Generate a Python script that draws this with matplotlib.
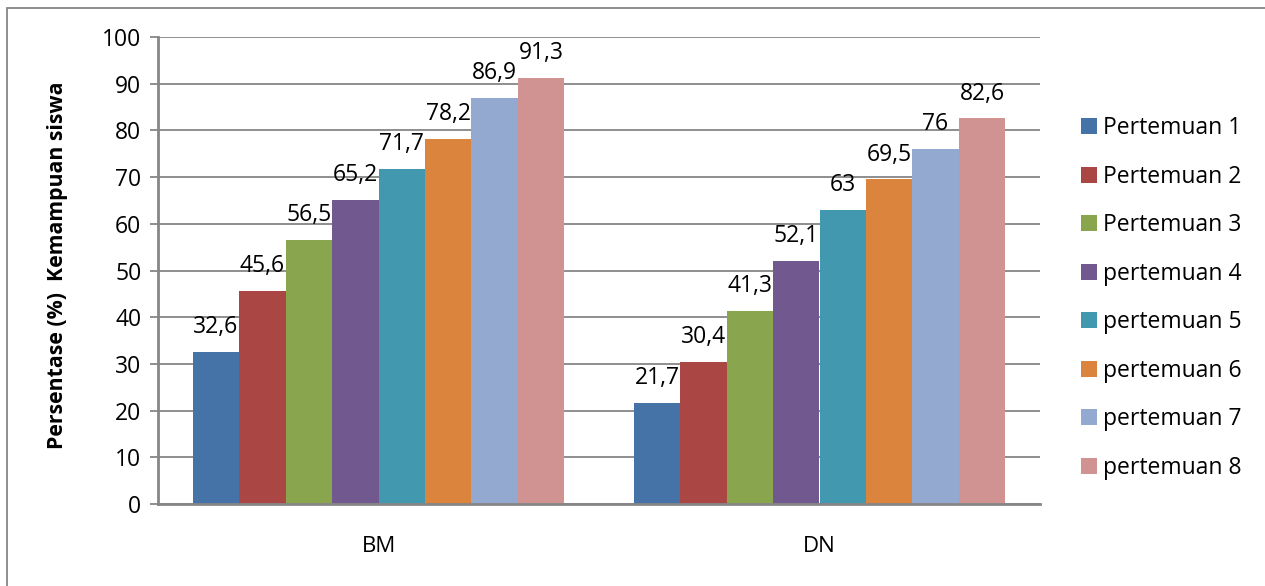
import numpy as np
import matplotlib
matplotlib.use('Agg')
import matplotlib.pyplot as plt

plt.rcParams['font.family'] = ['Open Sans', 'DejaVu Sans']

# data
categories = ['BM', 'DN']
series_names = ['Pertemuan 1', 'Pertemuan 2', 'Pertemuan 3', 'pertemuan 4',
                'pertemuan 5', 'pertemuan 6', 'pertemuan 7', 'pertemuan 8']
bm_values = [32.6, 45.6, 56.5, 65.2, 71.7, 78.2, 86.9, 91.3]
dn_values = [21.7, 30.4, 41.3, 52.1, 63, 69.5, 76, 82.6]
colors = ['#4572A7', '#AA4643', '#89A54E', '#71588F',
          '#4198AF', '#DB843D', '#93A9CF', '#D19392']
yticks = [0, 10, 20, 30, 40, 50, 60, 70, 80, 90, 100]

W, H = 1265, 586
fig = plt.figure(figsize=(W / 100, H / 100), dpi=100)
ax = fig.add_axes([158 / W, (H - 504) / H, (1040 - 158) / W, (504 - 37) / H])

grid_col = '#868686'
n = len(series_names)
bw = 1 / (n + 1.5)
x = np.arange(len(categories))

for i, name in enumerate(series_names):
    vals = [bm_values[i], dn_values[i]]
    pos = x - 0.5 + 0.75 * bw + i * bw + bw / 2
    bars = ax.bar(pos, vals, width=bw, color=colors[i], label=name, zorder=3)
    for b, v in zip(bars, vals):
        txt = ('%g' % v).replace('.', ',')
        ax.annotate(txt, (b.get_x() + b.get_width() / 2, v),
                    xytext=(0, 13.5), textcoords='offset points',
                    ha='center', va='baseline', fontsize=16.5, zorder=4)

ax.set_xlim(-0.5, 1.5)
ax.set_ylim(0, 100)
ax.set_yticks(yticks)
ax.set_xticks(x)
ax.set_xticklabels(categories, fontsize=16)
ax.tick_params(axis='x', length=0, pad=23)
ax.tick_params(axis='y', length=6, width=1.3, color=grid_col, labelsize=16.5, pad=6)
ax.yaxis.grid(True, color=grid_col, lw=1.3, zorder=0)
for s in ['top', 'right']:
    ax.spines[s].set_visible(False)
for s in ['left', 'bottom']:
    ax.spines[s].set_color(grid_col)
    ax.spines[s].set_linewidth(2)
    ax.spines[s].set_zorder(5)

fig.text(58 / W, 1 - 265 / H, 'Persentase (%)  Kemampuan siswa', rotation=90,
         ha='center', va='center', fontsize=15.3, fontweight='bold')

fig.legend(loc='center left', bbox_to_anchor=(1072 / W, 1 - 298 / H),
           frameon=False, fontsize=16.5, handlelength=0.7, handleheight=0.7,
           handletextpad=0.25, labelspacing=1.07, borderaxespad=0)

# outer chart border (only the left and top edges are inside the picture)
fig.add_artist(plt.Rectangle((7 / W, -0.1), 1.2, (H - 8) / H + 0.1,
                             transform=fig.transFigure, fill=False,
                             edgecolor=grid_col, lw=1.3))

fig.savefig('out.png', dpi=100)
